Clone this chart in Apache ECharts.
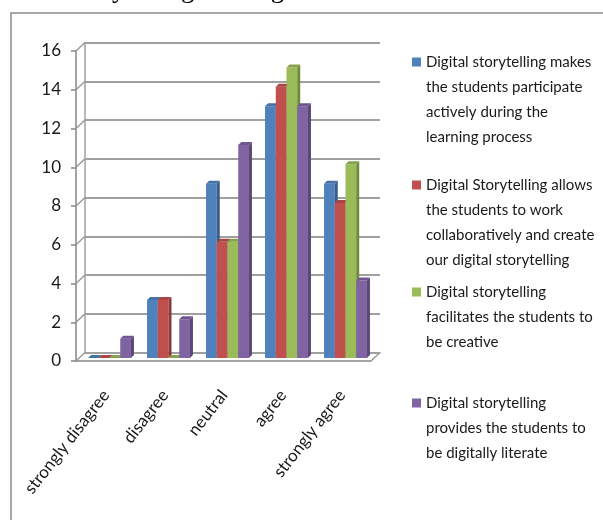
<!DOCTYPE html>
<html>
<head>
<meta charset="utf-8">
<script src="https://cdn.jsdelivr.net/npm/echarts@6/dist/echarts.min.js"></script>
<style>
html, body { margin: 0; padding: 0; background: #fff; }
#chart { width: 603px; height: 520px; }
</style>
</head>
<body>
<div id="chart"></div>
<script>
// data
var categories = ["strongly disagree", "disagree", "neutral", "agree", "strongly agree"];
var participate = [0, 3, 9, 13, 9];
var collaborate = [0, 3, 6, 14, 8];
var creative = [0, 0, 6, 15, 10];
var literate = [1, 2, 11, 13, 4];
var seriesNames = [
  "Digital storytelling makes\nthe students participate\nactively during the\nlearning process",
  "Digital Storytelling allows\nthe students to work\ncollaboratively and create\nour digital storytelling",
  "Digital storytelling\nfacilitates the students to\nbe creative",
  "Digital storytelling\nprovides the students to\nbe digitally literate"
];
var yMin = 0, yMax = 16, yStep = 2;

var allValues = [participate, collaborate, creative, literate];
var colors = ["#4F81BD", "#C0504D", "#9BBB59", "#8064A2"];
var sideColors = ["#385D8A", "#8C3A38", "#71893F", "#5C4776"];
var topColors = ["#4672A8", "#A94543", "#86A24B", "#6F5690"];
var FONT = 'Lato, "Open Sans", sans-serif';
var wall = [9, -8.5];   // back wall offset from front plane
var mid = [4, -3];      // bars sit in the middle of the depth
var depth = 3;          // own depth of each bar

var myChart = echarts.init(document.getElementById("chart"));

function barRenderer(si) {
  return function (params, api) {
    var cat = api.value(0), val = api.value(1);
    var base = api.coord([cat, 0]);
    var top = api.coord([cat, val]);
    var catW = api.size([1, 0])[0];
    var bw = catW / 5.5; // gap width 150%
    var x0 = base[0] - 2 * bw + si * bw + mid[0];
    var x1 = x0 + bw;
    var yb = base[1] + mid[1], yt = top[1] + mid[1];
    var d = depth;
    return {
      type: "group",
      children: [
        { type: "polygon", shape: { points: [[x0, yb], [x1, yb], [x1, yt], [x0, yt]] }, style: { fill: colors[si] } },
        { type: "polygon", shape: { points: [[x1, yb], [x1 + d, yb - d], [x1 + d, yt - d], [x1, yt]] }, style: { fill: sideColors[si] } },
        { type: "polygon", shape: { points: [[x0, yt], [x1, yt], [x1 + d, yt - d], [x0 + d, yt - d]] }, style: { fill: topColors[si] } }
      ]
    };
  };
}

// short diagonals joining the front axis to the back wall
function wallRenderer(params, api) {
  var v = api.value(0);
  var catW = api.size([1, 0])[0];
  var p = api.coord([0, v]);
  var x = p[0] - catW / 2;
  var lines = [{
    type: "line",
    shape: { x1: x, y1: p[1], x2: x + wall[0], y2: p[1] + wall[1] },
    style: { stroke: "#9a9a9a", lineWidth: 1.5 }
  }];
  if (v === yMin) {
    var q = api.coord([categories.length - 1, v]);
    var xr = q[0] + catW / 2;
    lines.push({
      type: "line",
      shape: { x1: xr, y1: q[1], x2: xr + wall[0], y2: q[1] + wall[1] },
      style: { stroke: "#9a9a9a", lineWidth: 1.5 }
    });
  }
  return { type: "group", children: lines };
}

var tickValues = [];
for (var t = yMin; t <= yMax; t += yStep) tickValues.push([t]);

var series = [{
  type: "custom",
  xAxisIndex: 0,
  yAxisIndex: 0,
  renderItem: wallRenderer,
  data: tickValues,
  silent: true,
  z: 1
}];
allValues.forEach(function (vals, si) {
  series.push({
    name: seriesNames[si],
    type: "custom",
    xAxisIndex: 0,
    yAxisIndex: 0,
    renderItem: barRenderer(si),
    itemStyle: { color: colors[si] },
    data: vals.map(function (v, i) { return [i, v]; }),
    z: 2
  });
});

// one legend per entry; blank lines in front push the text down so
// the square lines up with the first text line
var firstLine = [62, 185, 292, 403];
var lineH = 25;
var legends = seriesNames.map(function (name, i) {
  var n = name.split("\n").length;
  var pad = new Array(n).join("\n");
  return {
    data: [name],
    left: 412,
    top: firstLine[i] - lineH / 2 - (n - 1) * lineH,
    orient: "vertical",
    icon: "rect",
    itemWidth: 9,
    itemHeight: 9,
    padding: 0,
    selectedMode: false,
    formatter: function (nm) { return pad + nm; },
    textStyle: {
      fontFamily: FONT,
      fontSize: 15,
      lineHeight: lineH,
      color: "#1a1a1a"
    }
  };
});

var option = {
  animation: false,
  backgroundColor: "#fff",
  graphic: [
    {
      type: "rect",
      shape: { x: 11, y: 13, width: 640, height: 560 },
      style: { fill: null, stroke: "#8a8a8a", lineWidth: 1.5 },
      silent: true
    },
    {
      // title line above the frame, cut off by the top edge
      type: "text",
      x: 67,
      y: 3.5,
      style: {
        text: "Storytelling Writing",
        font: '27px "Liberation Serif", serif',
        fill: "#000",
        verticalAlign: "bottom"
      },
      silent: true
    }
  ],
  legend: legends,
  grid: [
    { left: 76, top: 51, width: 295, height: 310 },
    { left: 76 + wall[0], top: 51 + wall[1], width: 295, height: 310 }
  ],
  xAxis: [
    {
      type: "category",
      gridIndex: 0,
      data: categories,
      axisLine: { lineStyle: { color: "#868686", width: 1.5 } },
      axisTick: { length: 7, lineStyle: { color: "#868686", width: 1.5 } },
      axisLabel: {
        interval: 0,
        rotate: 52,
        margin: 18,
        padding: [0, 10, 0, 0],
        align: "right",
        verticalAlign: "top",
        fontFamily: FONT,
        fontSize: 17,
        color: "#1a1a1a"
      },
      splitLine: { show: false }
    },
    {
      type: "category",
      gridIndex: 1,
      data: categories,
      axisLine: { lineStyle: { color: "#a0a0a0", width: 1.5 } },
      axisTick: { show: false },
      axisLabel: { show: false },
      splitLine: { show: false }
    }
  ],
  yAxis: [
    {
      type: "value",
      gridIndex: 0,
      min: yMin,
      max: yMax,
      interval: yStep,
      axisLine: { show: true, lineStyle: { color: "#868686", width: 1.5 } },
      axisTick: { show: true, length: 5, lineStyle: { color: "#868686", width: 1.5 } },
      axisLabel: { margin: 15, fontFamily: FONT, fontSize: 17, color: "#1a1a1a" },
      splitLine: { show: false }
    },
    {
      type: "value",
      gridIndex: 1,
      min: yMin,
      max: yMax,
      interval: yStep,
      axisLine: { show: true, lineStyle: { color: "#a0a0a0", width: 1.5 } },
      axisTick: { show: false },
      axisLabel: { show: false },
      splitLine: { show: true, lineStyle: { color: "#a0a0a0", width: 2 } }
    }
  ],
  series: series
};

myChart.setOption(option, true);
</script>
</body>
</html>
